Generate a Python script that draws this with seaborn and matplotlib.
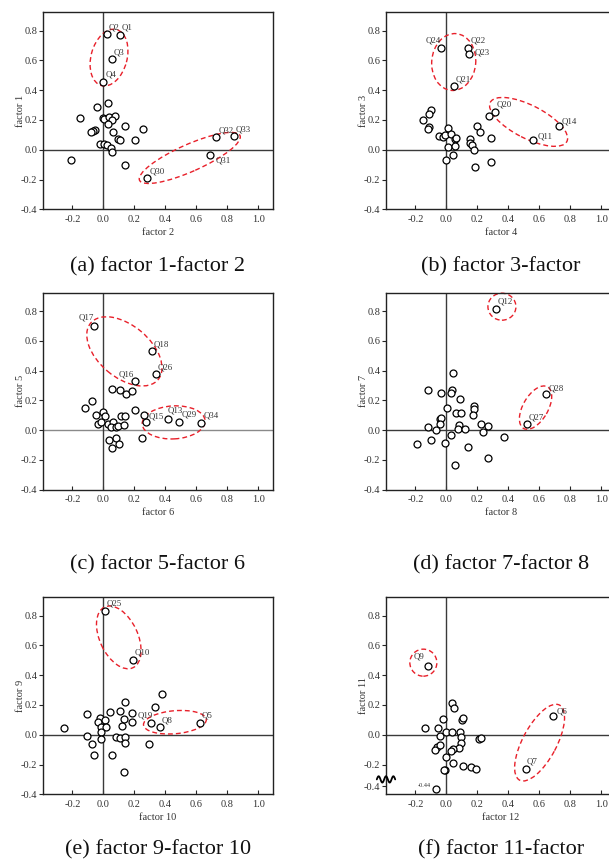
import numpy as np
import matplotlib
matplotlib.use("Agg")
import matplotlib.pyplot as plt
import matplotlib.transforms as mtrans
from matplotlib.patches import Ellipse
from matplotlib.ticker import FormatStrFormatter, FixedLocator
import pandas as pd
import seaborn as sns

# ---------------- data ----------------
# panel (a): x = factor 2, y = factor 1
a_lab = ["Q1", "Q2", "Q3", "Q4", "Q30", "Q31", "Q32", "Q33"] + [""] * 25
a_x = [0.107, 0.021, 0.056, 0.0, 0.283, 0.69, 0.729, 0.84,
       0.032, -0.041, -0.154, -0.002, 0.004, 0.039, 0.075, 0.056, 0.032, 0.137, 0.257,
       -0.056, -0.065, -0.081, 0.062, 0.094, 0.11, 0.204, -0.021, 0.004, 0.021, 0.051,
       0.054, -0.208, 0.137]
a_y = [0.771, 0.776, 0.607, 0.457, -0.19, -0.038, 0.084, 0.090,
       0.312, 0.285, 0.211, 0.211, 0.205, 0.218, 0.227, 0.20, 0.173, 0.162, 0.142,
       0.133, 0.128, 0.117, 0.122, 0.07, 0.065, 0.063, 0.037, 0.037, 0.032, 0.01,
       -0.015, -0.071, -0.10]

# panel (b): x = factor 4, y = factor 3
b_lab = ["Q24", "Q22", "Q23", "Q21", "Q20", "Q14", "Q11"] + [""] * 26
b_x = [-0.032, 0.142, 0.147, 0.047, 0.313, 0.724, 0.56,
       0.274, -0.099, -0.112, -0.149, -0.11, -0.116, -0.045, -0.024, -0.011, 0.009,
       0.028, 0.052, 0.062, 0.009, 0.056, -0.004, 0.043, 0.149, 0.153, 0.162, 0.179,
       0.185, 0.198, 0.218, 0.287, 0.287]
b_y = [0.686, 0.686, 0.643, 0.428, 0.256, 0.162, 0.066,
       0.229, 0.267, 0.24, 0.20, 0.155, 0.142, 0.093, 0.088, 0.10, 0.144,
       0.106, 0.075, 0.081, 0.016, 0.025, -0.07, -0.035, 0.07, 0.048, 0.032, -0.004,
       -0.118, 0.16, 0.122, 0.077, -0.084]

# panel (c): x = factor 6, y = factor 5
c_lab = ["Q17", "Q18", "Q26", "Q16", "Q15", "Q13", "Q29", "Q34"] + [""] * 26
c_x = [-0.06, 0.313, 0.339, 0.202, 0.275, 0.414, 0.489, 0.631,
       0.056, 0.105, 0.144, 0.187, -0.077, -0.116, -0.047, 0.0, 0.011, -0.034, -0.013,
       0.03, 0.06, 0.047, 0.082, 0.094, 0.116, 0.137, 0.135, 0.206, 0.262, 0.251,
       0.036, 0.084, 0.101, 0.052]
c_y = [0.70, 0.531, 0.374, 0.329, 0.057, 0.075, 0.057, 0.048,
       0.274, 0.267, 0.242, 0.262, 0.195, 0.146, 0.104, 0.119, 0.097, 0.043, 0.055,
       0.043, 0.052, 0.019, 0.019, 0.025, 0.095, 0.097, 0.032, 0.132, 0.10, -0.05,
       -0.068, -0.053, -0.093, -0.118]

# panel (d): x = factor 8, y = factor 7
d_lab = ["Q12", "Q28", "Q27"] + [""] * 31
d_x = [0.317, 0.644, 0.519,
       0.041, -0.121, 0.034, -0.034, 0.030, 0.088, 0.006, 0.181, 0.179, 0.063, 0.091,
       0.17, -0.041, -0.034, -0.041, -0.121, -0.067, 0.08, 0.073, 0.119, 0.22, 0.269,
       0.239, -0.097, -0.19, -0.009, 0.03, 0.14, 0.371, 0.267, 0.054]
d_y = [0.816, 0.245, 0.041,
       0.386, 0.267, 0.267, 0.247, 0.247, 0.211, 0.146, 0.16, 0.142, 0.113, 0.113,
       0.104, 0.075, 0.081, 0.041, 0.023, -0.002, 0.034, 0.007, 0.01, 0.041, 0.028,
       -0.013, -0.067, -0.096, -0.087, -0.033, -0.11, -0.044, -0.19, -0.236]

# panel (e): x = factor 10, y = factor 9
e_lab = ["Q25", "Q10", "Q19", "Q8", "Q5"] + [""] * 28
e_x = [0.009, 0.189, 0.309, 0.363, 0.62,
       0.376, 0.142, 0.335, 0.041, 0.109, -0.105, 0.185, 0.135, -0.021, -0.032, 0.009,
       -0.017, 0.019, -0.013, 0.122, 0.187, -0.253, -0.105, -0.075, -0.017, -0.058,
       0.054, 0.082, 0.109, 0.137, 0.142, 0.294, 0.133]
e_y = [0.829, 0.502, 0.081, 0.05, 0.081,
       0.272, 0.218, 0.185, 0.151, 0.162, 0.142, 0.144, 0.104, 0.113, 0.084, 0.097,
       0.055, 0.05, 0.016, 0.061, 0.084, 0.048, -0.006, -0.062, -0.031, -0.136,
       -0.134, -0.015, -0.024, -0.017, -0.053, -0.064, -0.251]

# panel (f): x = factor 12, y = factor 11
f_lab = ["Q9", "Q6", "Q7"] + [""] * 29
f_x = [-0.119, 0.685, 0.513,
       0.037, 0.047, -0.022, 0.103, 0.11, -0.14, -0.052, -0.041, 0.0, 0.039, 0.088,
       0.093, 0.095, 0.084, 0.041, 0.03, -0.058, -0.071, -0.039, -0.004, 0.045, 0.106,
       0.157, 0.192, -0.009, -0.013, 0.209, 0.226, -0.067]
f_y = [0.464, 0.129, -0.232,
       0.216, 0.182, 0.108, 0.102, 0.115, 0.043, 0.048, -0.006, 0.019, 0.019, 0.021,
       -0.017, -0.057, -0.089, -0.094, -0.11, -0.08, -0.104, -0.071, -0.149, -0.187,
       -0.207, -0.218, -0.227, -0.236, -0.24, -0.026, -0.019, -0.44]

captions = ["(a) factor 1-factor 2", "(b) factor 3-factor", "(c) factor 5-factor 6",
            "(d) factor 7-factor 8", "(e) factor 9-factor 10", "(f) factor 11-factor"]
xlabels = ["factor 2", "factor 4", "factor 6", "factor 8", "factor 10", "factor 12"]
ylabels = ["factor 1", "factor 3", "factor 5", "factor 7", "factor 9", "factor 11"]
tick_vals = [-0.4, -0.2, 0.0, 0.2, 0.4, 0.6, 0.8, 1.0]

# ---------------- annotations / layout (not data) ----------------
# grouping ellipses: centre (data), full width & height (px), angle (deg, display)
ellipses = {
    "a": [(0.036, 0.619, 58, 36, 75), (0.557, -0.055, 110, 27, 24)],
    "b": [(0.047, 0.589, 57, 44, 85), (0.53, 0.187, 86, 33, -27)],
    "c": [(0.135, 0.529, 88, 52, -40), (0.453, 0.052, 63, 33, 3)],
    "d": [(0.358, 0.829, 28, 27, 0), (0.575, 0.151, 48, 25, 60)],
    "e": [(0.099, 0.654, 67, 38, -65), (0.461, 0.084, 63, 23, 5)],
    "f": [(-0.149, 0.484, 27, 27, 0), (0.601, -0.053, 85, 34, 62)],
}
DEFAULT_OFF = (2, 3, "left", "bottom")
label_off = {
    ("a", "Q31"): (5, -1, "left", "top"),
    ("b", "Q24"): (-1, 3, "right", "bottom"),
    ("b", "Q23"): (5, 1, "left", "center"),
    ("b", "Q14"): (3, 0, "left", "bottom"),
    ("b", "Q11"): (4, -1, "left", "bottom"),
    ("c", "Q17"): (0, 4, "right", "bottom"),
    ("c", "Q16"): (-1, 3, "right", "bottom"),
    ("c", "Q15"): (3, 1, "left", "bottom"),
    ("c", "Q13"): (0, 4, "left", "bottom"),
    ("d", "Q28"): (2, 1, "left", "bottom"),
    ("e", "Q25"): (2, 4, "left", "bottom"),
    ("e", "Q19"): (2, 3, "right", "bottom"),
    ("f", "Q9"): (-4, 5, "right", "bottom"),
    ("f", "Q6"): (4, 0, "left", "bottom"),
    ("f", "Q7"): (1, 4, "left", "bottom"),
}
# axes boxes in pixels: left, top
boxes = {"a": (43, 12.3), "b": (386, 12.3), "c": (43, 292.7),
         "d": (386, 292.7), "e": (43, 597.3), "f": (386, 597.3)}
caption_y = {"a": 267, "b": 267, "c": 565, "d": 565, "e": 850, "f": 850}
AX_W, AX_H = 230, 197

panels = {
    "a": (a_x, a_y, a_lab), "b": (b_x, b_y, b_lab), "c": (c_x, c_y, c_lab),
    "d": (d_x, d_y, d_lab), "e": (e_x, e_y, e_lab), "f": (f_x, f_y, f_lab),
}

sns.set_style("ticks")
plt.rcParams["font.family"] = ["Liberation Serif", "DejaVu Serif"]
plt.rcParams["axes.unicode_minus"] = False

W, H = 609, 863
DPI = 100
fig = plt.figure(figsize=(W / DPI, H / DPI), dpi=DPI)

BREAK, SQUEEZE = -0.3, 0.45


def fwd(v):
    v = np.asarray(v, dtype=float)
    return np.where(v < BREAK, BREAK + (v - BREAK) * SQUEEZE, v)


def inv(v):
    v = np.asarray(v, dtype=float)
    return np.where(v < BREAK, BREAK + (v - BREAK) / SQUEEZE, v)


TXT = "#333333"
for i, key in enumerate(["a", "b", "c", "d", "e", "f"]):
    xs, ys, labs = panels[key]
    left, top = boxes[key]
    ax = fig.add_axes([left / W, 1 - (top + AX_H) / H, AX_W / W, AX_H / H])
    df = pd.DataFrame({"x": xs, "y": ys, "lab": labs})

    hcol = "#8a8a8a" if key == "c" else "#3a3a3a"
    ax.axhline(0, color=hcol, lw=1.0, zorder=1)
    ax.axvline(0, color="#3a3a3a", lw=1.0, zorder=1)
    sns.scatterplot(data=df, x="x", y="y", ax=ax, s=25, color="white",
                    edgecolor="black", linewidth=0.9, zorder=3, legend=False)

    if key == "f":
        ax.set_yscale("function", functions=(fwd, inv))
        ax.set_ylim(float(inv(-0.4)), 0.923)
    else:
        ax.set_ylim(-0.4, 0.923)
    ax.set_xlim(-0.39, 1.094)

    ax.xaxis.set_major_locator(FixedLocator(tick_vals[1:]))
    ax.yaxis.set_major_locator(FixedLocator(tick_vals[:-1]))
    ax.xaxis.set_major_formatter(FormatStrFormatter("%.1f"))
    ax.yaxis.set_major_formatter(FormatStrFormatter("%.1f"))
    ax.tick_params(axis="x", direction="in", length=3, width=0.8, pad=4,
                   labelsize=7.5, labelcolor=TXT)
    ax.tick_params(axis="y", direction="out", length=3, width=0.8, pad=1,
                   labelsize=7.5, labelcolor=TXT)
    for sp in ax.spines.values():
        sp.set_visible(True)
        sp.set_linewidth(1.0)
        sp.set_color("#222222")

    ax.set_xlabel(xlabels[i], fontsize=7.5, color=TXT)
    ax.set_ylabel(ylabels[i], fontsize=7.5, color=TXT)
    ax.xaxis.set_label_coords(0.5, -0.095)
    ax.yaxis.set_label_coords(-0.08, 0.5)

    # point labels
    for x, y, lab in zip(xs, ys, labs):
        if lab:
            dx, dy, ha, va = label_off.get((key, lab), DEFAULT_OFF)
            ax.annotate(lab, (x, y), xytext=(dx, dy), textcoords="offset pixels",
                        ha=ha, va=va, fontsize=6.4, color=TXT, zorder=4)

    # grouping ellipses
    for cx, cy, w, h, ang in ellipses[key]:
        tr = fig.dpi_scale_trans + mtrans.ScaledTranslation(cx, cy, ax.transData)
        ax.add_patch(Ellipse((0, 0), w / DPI, h / DPI, angle=ang, transform=tr,
                             fill=False, edgecolor="#e8202a", lw=1.0,
                             linestyle=(0, (3.5, 2.2)), zorder=2, clip_on=False))

    if key == "f":
        # value below the axis break
        for x, y in zip(xs, ys):
            if y < BREAK:
                ax.annotate(f"{y:.2f}", (x, y), xytext=(-5, 1),
                            textcoords="offset pixels", ha="right", va="bottom",
                            fontsize=4.5, color=TXT)
        # axis break mark
        t = np.linspace(0, 1, 120)
        yb = (float(fwd(BREAK)) + 0.4) / (0.923 + 0.4)
        ax.plot(-0.04 + 0.08 * t, yb + 0.016 * np.sin(2 * np.pi * 2.5 * t),
                transform=ax.transAxes, color="black", lw=1.3, clip_on=False,
                zorder=5)

    fig.text((left + AX_W / 2) / W, 1 - caption_y[key] / H, captions[i],
             ha="center", va="center", fontsize=16, color="#111111")

fig.savefig("out.png", dpi=DPI)
